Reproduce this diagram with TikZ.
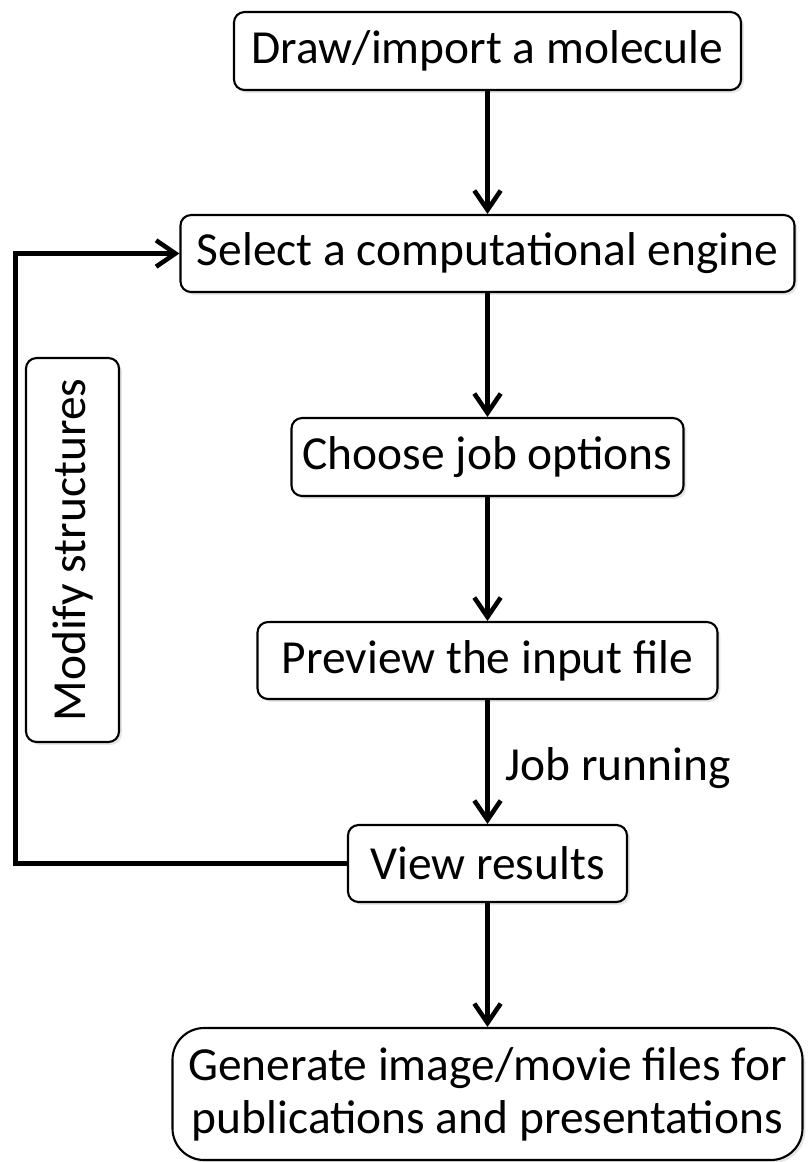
\documentclass[tikz,border=0pt]{standalone}
\usepackage{fontspec}
\setmainfont{Carlito}
\usepackage{tikz}
\usetikzlibrary{arrows.meta}
\usetikzlibrary{shadows}
\usetikzlibrary{positioning}

\begin{document}
\begin{tikzpicture}[x=1cm, y=-1cm, >={Straight Barb[length=5.5pt,width=7.5pt]},
      box/.style={draw, line width=0.6pt, rounded corners=3pt, fill=white, inner sep=0pt,
        drop shadow={opacity=0.2, shadow xshift=0.8pt, shadow yshift=-0.8pt}},
      flow/.style={->, line width=1.3pt},
      every node/.style={font=\fontsize{13.5pt}{15pt}\selectfont}]
      \useasboundingbox (0,0) rectangle (8.09,11.62);
      % Steps
      \node[box, minimum width=5.07cm, minimum height=0.78cm] (molecule) at (4.875,0.51) {Draw/import a molecule};
      \node[box, minimum width=6.14cm, minimum height=0.77cm] (engine) at (4.875,2.535) {Select a computational engine};
      \node[box, minimum width=3.92cm, minimum height=0.78cm] (options) at (4.875,4.57) {Choose job options};
      \node[box, minimum width=4.60cm, minimum height=0.77cm] (preview) at (4.875,6.605) {Preview the input file};
      \node[box, minimum width=2.79cm, minimum height=0.77cm] (results) at (4.875,8.635) {View results};
      \node[box, rounded corners=9pt, align=center, minimum width=6.30cm, minimum height=1.32cm] (generate) at (4.875,10.94)
        {Generate image/movie files for\\publications and presentations};
      % Feedback loop
      \node[box, rotate=90, minimum width=3.84cm, minimum height=0.93cm] (modify) at (0.725,5.5) {Modify structures};
      \node[anchor=west] (jobrun) at (4.93,7.68) {Job running};
      % Arrows
      \foreach \a/\b in {molecule/engine, engine/options, options/preview, preview/results, results/generate}
        \draw[flow] (\a) -- (\b);
      \coordinate (loop) at (0.157,8.635);
      \draw[flow, line cap=rect] (results.west) -- (loop) |- (engine.west);
    \end{tikzpicture}
\end{document}
